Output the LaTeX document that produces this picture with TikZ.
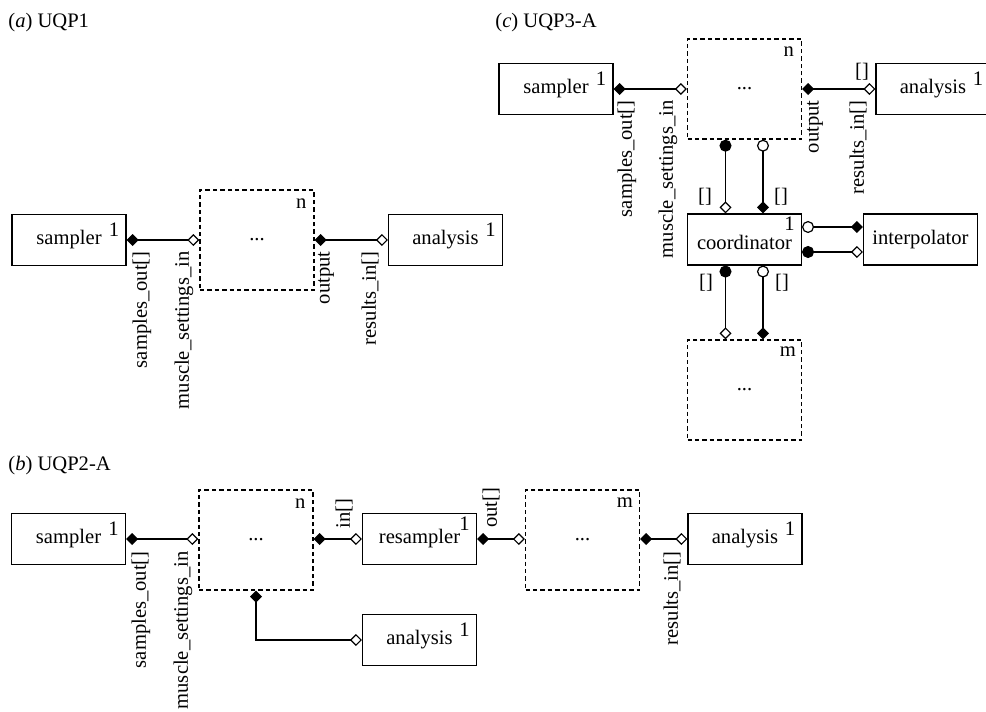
\documentclass[tikz,border=0pt]{standalone}
\usepackage{fontspec}
\setmainfont{Liberation Serif}
\usetikzlibrary{calc,positioning,arrows.meta}
\newcommand{\dgfont}{\fontsize{10.3}{12}\selectfont}
\tikzset{
  fdia/.tip={Diamond[length=6pt,width=6pt]},
  odia/.tip={Diamond[open,length=6pt,width=6pt]},
  fcirc/.tip={Circle[length=6pt]},
  ocirc/.tip={Circle[open,length=6pt]},
  comp/.style={draw, line width=0.55pt, minimum width=57pt, minimum height=25.5pt,
               inner sep=0pt, font=\dgfont},
  subm/.style={draw, line width=0.7pt, dash pattern=on 2.2pt off 1.5pt,
               minimum width=57pt, minimum height=50pt, inner sep=0pt, font=\dgfont},
  mult/.style={anchor=north east, inner sep=0pt, font=\dgfont},
  plab/.style={rotate=90, inner sep=0pt, font=\dgfont},
  brk/.style={inner sep=0pt, font=\dgfont},
  ttl/.style={anchor=base west, inner sep=0pt, font=\dgfont},
  conn/.style={line width=0.6pt}
}

\begin{document}
\begin{tikzpicture}[x=0.5pt, y=-0.5pt]
  \useasboundingbox (0,0) rectangle (986,712);
  % (a)
  \node[ttl] (ttlA) at (8,27) {(\textit{a}) UQP1};
  \node[comp] (sampA) at (69,240) {sampler};
  \node[subm] (modA) at (257,240) {...};
  \node[comp] (anaA) at (445.5,240) {analysis};
  \node[mult] (sampA1) at ([shift={(-3.5pt,-4.5pt)}]sampA.north east) {1};
  \node[mult] (modAn) at ([shift={(-4pt,-4.5pt)}]modA.north east) {n};
  \node[mult] (anaA1) at ([shift={(-3.5pt,-4.5pt)}]anaA.north east) {1};
  \draw[conn, fdia-odia] (sampA.east) -- (modA.west);
  \draw[conn, fdia-odia] (modA.east) -- (anaA.west);
  \node[plab, anchor=east] (soA) at (142,251) {samples\_out[]};
  \node[plab, anchor=east] (msA) at (184,251) {muscle\_settings\_in};
  \node[plab, anchor=east] (ouA) at (326,251) {output};
  \node[plab, anchor=east] (riA) at (370,251) {results\_in[]};

  % (b)
  \node[ttl] (ttlB) at (8,470) {(\textit{b}) UQP2-A};
  \node[comp] (sampB) at (68.5,539) {sampler};
  \node[subm] (modB) at (256,540) {...};
  \node[comp] (resB) at (419.5,539) {resampler};
  \node[subm] (modB2) at (582.5,540) {...};
  \node[comp] (anaB) at (745,539) {analysis};
  \node[comp] (anaB2) at (419.5,640) {analysis};
  \node[mult] (sampB1) at ([shift={(-3.5pt,-4.5pt)}]sampB.north east) {1};
  \node[mult] (modBn) at ([shift={(-4pt,-4.5pt)}]modB.north east) {n};
  \node[mult] (resB1) at ([shift={(-3.5pt,-2pt)}]resB.north east) {1};
  \node[mult] (modB2m) at ([shift={(-3.5pt,-4pt)}]modB2.north east) {m};
  \node[mult] (anaB1) at ([shift={(-3.5pt,-4.5pt)}]anaB.north east) {1};
  \node[mult] (anaB21) at ([shift={(-3.5pt,-4.5pt)}]anaB2.north east) {1};
  \draw[conn, fdia-odia] (sampB.east) -- (modB.west |- sampB.east);
  \draw[conn, fdia-odia] (modB.east |- resB.west) -- (resB.west);
  \draw[conn, fdia-odia] (resB.east) -- (modB2.west |- resB.east);
  \draw[conn, fdia-odia] (modB2.east |- anaB.west) -- (anaB.west);
  \draw[conn, fdia-odia] (modB.south) |- (anaB2.west);
  \node[plab, anchor=east] (soB) at (141,551) {samples\_out[]};
  \node[plab, anchor=east] (msB) at (183,551) {muscle\_settings\_in};
  \node[plab, anchor=west] (inB) at (344,529) {in[]};
  \node[plab, anchor=west] (otB) at (491,528) {out[]};
  \node[plab, anchor=east] (riB) at (672,551) {results\_in[]};

  % (c)
  \node[ttl] (ttlC) at (495,27) {(\textit{c}) UQP3-A};
  \node[comp] (sampC) at (556,89) {sampler};
  \node[subm] (modC) at (744.5,89) {...};
  \node[comp] (anaC) at (933,89) {analysis};
  \node[comp, text height=10pt, text depth=0pt] (coordC) at (744.5,239.5) {coordinator};
  \node[comp] (interC) at (920.5,239.5) {interpolator};
  \node[subm] (modC2) at (744.5,390) {...};
  \node[mult] (sampC1) at ([shift={(-3.5pt,-4.5pt)}]sampC.north east) {1};
  \node[mult] (modCn) at ([shift={(-4pt,-4pt)}]modC.north east) {n};
  \node[mult] (anaC1) at ([shift={(-3.5pt,-4.5pt)}]anaC.north east) {1};
  \node[mult] (coordC1) at ([shift={(-3.5pt,-1.5pt)}]coordC.north east) {1};
  \node[mult] (modC2m) at ([shift={(-3pt,-3.5pt)}]modC2.north east) {m};
  \draw[conn, fdia-odia] (sampC.east) -- (modC.west);
  \draw[conn, fdia-odia] (modC.east) -- (anaC.west);
  \draw[conn, fcirc-odia] ([xshift=-9.5pt]modC.south) -- ([xshift=-9.5pt]coordC.north);
  \draw[conn, ocirc-fdia] ([xshift=9.25pt]modC.south) -- ([xshift=9.25pt]coordC.north);
  \draw[conn, ocirc-fdia] ([yshift=6.25pt]coordC.east) -- ([yshift=6.25pt]interC.west);
  \draw[conn, fcirc-odia] ([yshift=-6.25pt]coordC.east) -- ([yshift=-6.25pt]interC.west);
  \draw[conn, fcirc-odia] ([xshift=-9.5pt]coordC.south) -- ([xshift=-9.5pt]modC2.north);
  \draw[conn, ocirc-fdia] ([xshift=9.25pt]coordC.south) -- ([xshift=9.25pt]modC2.north);
  \node[plab, anchor=east] (soC) at (627,100) {samples\_out[]};
  \node[plab, anchor=east] (msC) at (668,100) {muscle\_settings\_in};
  \node[plab, anchor=east] (ouC) at (815,100) {output};
  \node[plab, anchor=east] (riC) at (858,100) {results\_in[]};
  \node[brk] (brC0) at (862,72) {[]};
  \node[brk] (brC1) at (705,197) {[]};
  \node[brk] (brC2) at (781,197) {[]};
  \node[brk] (brC3) at (706,283) {[]};
  \node[brk] (brC4) at (782,283) {[]};
\end{tikzpicture}
\end{document}
